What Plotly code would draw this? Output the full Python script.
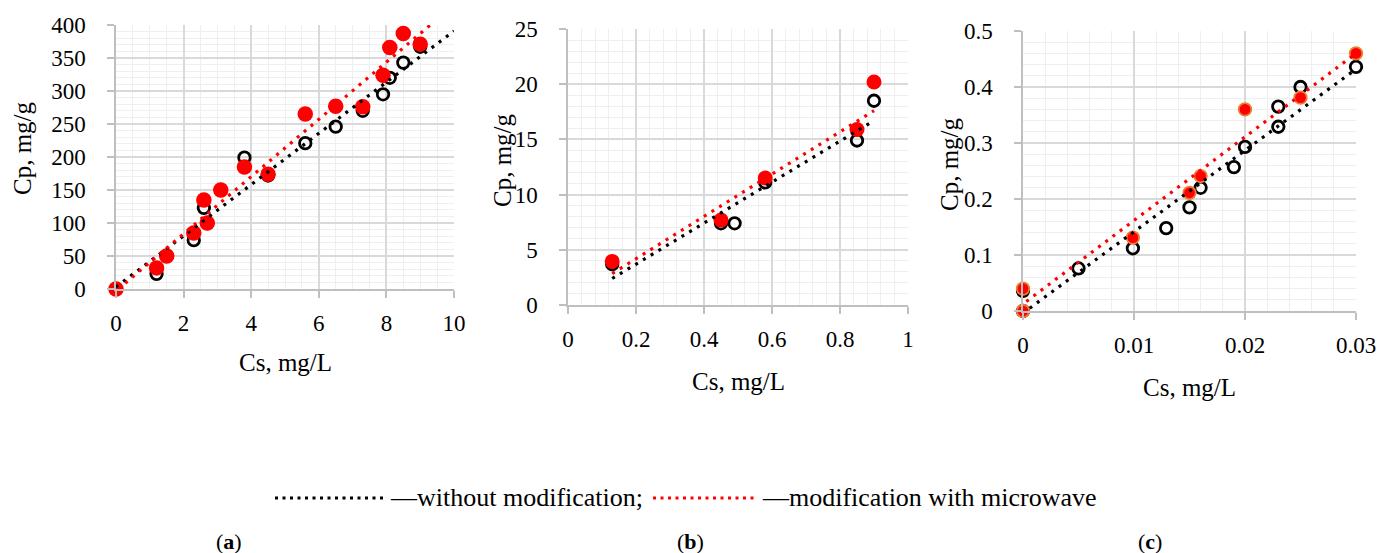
import plotly.graph_objects as go

W, H = 1380, 553
FONT = "Liberation Serif"

# ---------------- data ----------------
# panel (a)
a_x_plain = [0, 1.2, 1.5, 2.3, 2.6, 2.7, 3.1, 3.8, 4.5, 5.6, 6.5, 7.3, 7.9, 8.1, 8.5, 9.0]
a_y_plain = [0, 23, 50, 74, 123, 100, 150, 199, 172, 221, 246, 270, 295, 320, 343, 367]
a_x_mw = [0, 1.2, 1.5, 2.3, 2.6, 2.7, 3.1, 3.8, 4.5, 5.6, 6.5, 7.3, 7.9, 8.1, 8.5, 9.0]
a_y_mw = [0, 32, 50, 85, 135, 100, 150, 185, 174, 265, 277, 276, 324, 366, 387, 371]
a_trend_plain_x = [0, 10]
a_trend_plain_y = [3, 391]
a_trend_mw_x = [0.07, 9.3]
a_trend_mw_y = [0, 400]

# panel (b)
b_x_plain = [0.13, 0.45, 0.49, 0.58, 0.85, 0.90]
b_y_plain = [3.7, 7.4, 7.4, 11.1, 14.9, 18.5]
b_x_mw = [0.13, 0.45, 0.58, 0.85, 0.90]
b_y_mw = [3.95, 7.7, 11.5, 15.9, 20.2]
b_trend_plain_x = [0.13, 0.90]
b_trend_plain_y = [2.4, 16.7]
b_trend_mw_x = [0.13, 0.90]
b_trend_mw_y = [2.85, 17.6]

# panel (c)
c_x_plain = [0, 0, 0.005, 0.0099, 0.0129, 0.015, 0.016, 0.019, 0.020, 0.023, 0.023, 0.025, 0.030]
c_y_plain = [0.036, 0, 0.076, 0.112, 0.148, 0.185, 0.22, 0.257, 0.293, 0.329, 0.365, 0.40, 0.436]
c_x_mw = [0, 0, 0.0099, 0.015, 0.016, 0.020, 0.025, 0.030]
c_y_mw = [0.04, 0, 0.131, 0.211, 0.241, 0.36, 0.381, 0.46]
c_trend_plain_x = [0.0006, 0.030]
c_trend_plain_y = [0.005, 0.432]
c_trend_mw_x = [0.0003, 0.030]
c_trend_mw_y = [0.017, 0.46]

x_title = "Cs, mg/L"
y_title = "Cp, mg/g"
legend_labels = ["\u2014without modification;", "\u2014modification with microwave"]
panel_labels = ["(<b>a</b>)", "(<b>b</b>)", "(<b>c</b>)"]

# ---------------- layout helpers ----------------
def px_x(p):
    return p / W

def px_y(p):
    return 1 - p / H

panels = [
    dict(box=(116, 454, 25, 289), xr=[0, 10], yr=[0, 400], xd=2, yd=50, xm=0.5, ym=10,
         xtitle=(285, 362), ytitle=(22, 148), label=(229, 541)),
    dict(box=(568, 908, 29, 305), xr=[0, 1], yr=[0, 25], xd=0.2, yd=5, xm=0.04, ym=1,
         xtitle=(738, 381), ytitle=(503, 160), label=(690, 541)),
    dict(box=(1023, 1356, 31, 311), xr=[0, 0.03], yr=[0, 0.5], xd=0.01, yd=0.1, xm=0.002, ym=0.02,
         xtitle=(1189, 387), ytitle=(949, 164), label=(1150, 541)),
]

series = [
    (a_x_plain, a_y_plain, a_x_mw, a_y_mw, a_trend_plain_x, a_trend_plain_y, a_trend_mw_x, a_trend_mw_y, 15.5, "#FF0000"),
    (b_x_plain, b_y_plain, b_x_mw, b_y_mw, b_trend_plain_x, b_trend_plain_y, b_trend_mw_x, b_trend_mw_y, 15, "#FF0000"),
    (c_x_plain, c_y_plain, c_x_mw, c_y_mw, c_trend_plain_x, c_trend_plain_y, c_trend_mw_x, c_trend_mw_y, 12.5, "#ED7D31"),
]

fig = go.Figure()
layout = dict(
    template="none",
    width=W, height=H, autosize=False, margin=dict(l=0, r=0, t=0, b=0, pad=0),
    paper_bgcolor="white", plot_bgcolor="white", showlegend=False,
    font=dict(family=FONT, color="black"),
)
annotations = []
shapes = []

DOT_TREND = "3px,6px"

for i, (p, s) in enumerate(zip(panels, series)):
    n = "" if i == 0 else str(i + 1)
    xa, ya = "x" + n, "y" + n
    x0, x1, y0, y1 = p["box"]
    layout["xaxis" + n] = dict(
        domain=[px_x(x0), px_x(x1)], range=p["xr"], anchor=ya, automargin=False,
        tickmode="linear", dtick=p["xd"], tick0=0, showgrid=True, gridcolor="#d9d9d9", gridwidth=1.5,
        minor=dict(dtick=p["xm"], tick0=0, showgrid=True, gridcolor="#efefef", gridwidth=1),
        showline=True, linecolor="#bfbfbf", linewidth=1.5, zeroline=False,
        ticks="outside", ticklen=7, tickcolor="#bfbfbf", tickwidth=1.5,
        tickfont=dict(family=FONT, size=23, color="black"), ticklabelstandoff=6,
        fixedrange=True,
    )
    layout["yaxis" + n] = dict(
        domain=[px_y(y1), px_y(y0)], range=p["yr"], anchor=xa, automargin=False,
        tickmode="linear", dtick=p["yd"], tick0=0, showgrid=True, gridcolor="#d9d9d9", gridwidth=1.5,
        minor=dict(dtick=p["ym"], tick0=0, showgrid=True, gridcolor="#efefef", gridwidth=1),
        showline=True, linecolor="#bfbfbf", linewidth=1.5, zeroline=False,
        ticks="outside", ticklen=7, tickcolor="#bfbfbf", tickwidth=1.5,
        tickfont=dict(family=FONT, size=23, color="black"), ticklabelstandoff=17,
        fixedrange=True,
    )
    xp, yp, xm, ym, tpx, tpy, tmx, tmy, msize, medge = s
    fig.add_trace(go.Scatter(x=xp, y=yp, mode="markers", xaxis=xa, yaxis=ya, cliponaxis=False,
                             marker=dict(symbol="circle-open", size=11.5, color="black",
                                         line=dict(width=2.8, color="black")),
                             name="without modification"))
    fig.add_trace(go.Scatter(x=xm, y=ym, mode="markers", xaxis=xa, yaxis=ya, cliponaxis=False,
                             marker=dict(symbol="circle", size=msize, color="#FF0000",
                                         line=dict(width=1.8 if i == 2 else 0, color=medge)),
                             name="modification with microwave"))
    fig.add_trace(go.Scatter(x=tpx, y=tpy, mode="lines", xaxis=xa, yaxis=ya,
                             line=dict(color="black", width=3.2, dash=DOT_TREND), hoverinfo="skip"))
    fig.add_trace(go.Scatter(x=tmx, y=tmy, mode="lines", xaxis=xa, yaxis=ya,
                             line=dict(color="#FF0000", width=3.2, dash=DOT_TREND), hoverinfo="skip"))

    tx, ty = p["xtitle"]
    annotations.append(dict(text=x_title, x=px_x(tx), y=px_y(ty), xref="paper", yref="paper",
                            xanchor="center", yanchor="middle", showarrow=False,
                            font=dict(family=FONT, size=25, color="black")))
    tx, ty = p["ytitle"]
    annotations.append(dict(text=y_title, x=px_x(tx), y=px_y(ty), xref="paper", yref="paper",
                            xanchor="center", yanchor="middle", showarrow=False, textangle=-90,
                            font=dict(family=FONT, size=25, color="black")))
    lx, ly = p["label"]
    annotations.append(dict(text=panel_labels[i], x=px_x(lx), y=px_y(ly), xref="paper", yref="paper",
                            xanchor="center", yanchor="middle", showarrow=False,
                            font=dict(family=FONT, size=22, color="black")))

# legend (drawn manually)
LEG_Y = 498
shapes.append(dict(type="line", xref="paper", yref="paper", x0=px_x(275), x1=px_x(385),
                   y0=px_y(LEG_Y), y1=px_y(LEG_Y), line=dict(color="black", width=2.8, dash="3px,4.5px")))
shapes.append(dict(type="line", xref="paper", yref="paper", x0=px_x(653), x1=px_x(758),
                   y0=px_y(LEG_Y), y1=px_y(LEG_Y), line=dict(color="#FF0000", width=2.8, dash="3px,4.5px")))
annotations.append(dict(text=legend_labels[0], x=px_x(388), y=px_y(LEG_Y - 1), xref="paper", yref="paper",
                        xanchor="left", yanchor="middle", showarrow=False,
                        font=dict(family=FONT, size=26, color="black")))
annotations.append(dict(text=legend_labels[1], x=px_x(760), y=px_y(LEG_Y - 1), xref="paper", yref="paper",
                        xanchor="left", yanchor="middle", showarrow=False,
                        font=dict(family=FONT, size=26, color="black")))

layout["annotations"] = annotations
layout["shapes"] = shapes
fig.update_layout(**layout)
fig.write_html("out.html")
